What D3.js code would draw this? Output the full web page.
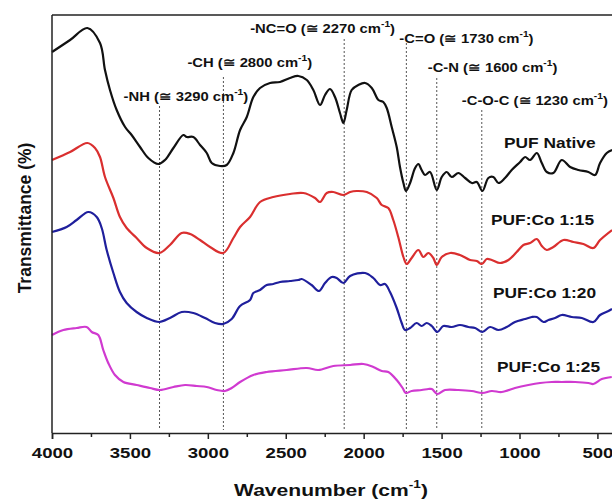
<!DOCTYPE html>
<html><head><meta charset="utf-8">
<script src="https://cdn.jsdelivr.net/npm/d3@7"></script>
<style>
body{margin:0;background:#fff}
svg{display:block;font-family:"Liberation Sans",Arial,Helvetica,sans-serif;font-weight:bold}
</style>
</head><body>
<svg id="chart" width="612" height="500"></svg>
<script>
// ---------- DATA ----------
const seriesNames = ["PUF Native", "PUF:Co 1:15", "PUF:Co 1:20", "PUF:Co 1:25"];
const seriesColors = ["#111111", "#da2f2f", "#1f1f9c", "#d03ad0"];

// [wavenumber (cm-1), transmittance (arb. units)]
const pufNative = [[4000,381],[3884,393],[3773,405],[3692,390],[3660,363],[3628,343],[3585,323],[3531,306],[3489,298],[3435,286],[3382,275],[3318,269],[3275,273],[3221,285],[3157,298],[3135,296],[3093,296],[3050,288],[3007,280],[2975,270],[2922,267],[2879,268],[2836,280],[2793,303],[2750,316],[2708,336],[2665,345],[2601,350],[2537,351],[2473,355],[2419,357],[2365,353],[2323,343],[2280,328],[2248,338],[2216,344],[2184,336],[2152,320],[2130,310],[2109,323],[2077,343],[2034,348],[1991,350],[1948,345],[1905,333],[1874,331],[1852,325],[1820,306],[1788,286],[1767,266],[1745,250],[1728,242],[1702,250],[1670,265],[1649,269],[1628,263],[1606,258],[1574,261],[1531,243],[1499,256],[1467,261],[1435,256],[1392,260],[1349,255],[1306,250],[1274,251],[1238,242],[1200,255],[1168,256],[1135,250],[1093,255],[1050,263],[996,271],[964,276],[932,273],[889,280],[857,270],[825,261],[783,260],[729,273],[675,266],[622,263],[558,261],[515,258],[483,270],[440,280],[406,283]];
const pufCo15 = [[4000,273],[3884,281],[3773,290],[3724,285],[3692,276],[3660,256],[3606,235],[3564,216],[3521,205],[3457,195],[3392,185],[3311,180],[3243,188],[3168,200],[3114,199],[3050,193],[2986,186],[2901,180],[2836,195],[2793,206],[2729,216],[2665,231],[2580,236],[2473,239],[2387,240],[2312,235],[2280,231],[2237,240],[2195,241],[2130,238],[2087,241],[2045,242],[1980,241],[1916,235],[1884,228],[1842,225],[1810,213],[1778,196],[1745,176],[1724,169],[1692,175],[1649,183],[1617,176],[1585,180],[1553,175],[1531,168],[1499,176],[1445,180],[1382,178],[1317,173],[1274,172],[1242,169],[1210,174],[1178,173],[1125,170],[1071,173],[1018,181],[975,188],[932,190],[889,194],[857,187],[825,183],[783,186],[718,193],[654,191],[590,189],[526,185],[483,193],[406,203]];
const pufCo20 = [[4000,201],[3906,206],[3842,213],[3767,221],[3713,216],[3681,205],[3649,183],[3606,160],[3564,141],[3521,130],[3457,121],[3392,115],[3311,111],[3243,115],[3168,121],[3093,120],[3018,115],[2954,110],[2901,109],[2847,114],[2793,127],[2729,133],[2708,140],[2665,143],[2622,148],[2580,149],[2537,151],[2473,152],[2419,153],[2398,154],[2334,148],[2287,142],[2248,150],[2205,156],[2173,155],[2130,150],[2087,157],[1991,160],[1938,155],[1895,148],[1863,149],[1831,141],[1788,125],[1756,110],[1735,103],[1702,105],[1660,110],[1628,107],[1595,110],[1563,107],[1527,101],[1489,107],[1435,106],[1382,108],[1328,106],[1285,105],[1238,101],[1189,106],[1135,103],[1082,106],[1029,111],[964,114],[921,116],[889,116],[846,111],[814,113],[772,115],[729,118],[665,116],[600,115],[526,111],[483,118],[429,122],[406,124]];
const pufCo25 = [[4000,98],[3927,103],[3842,105],[3778,106],[3745,101],[3703,98],[3671,83],[3639,70],[3596,58],[3542,51],[3457,48],[3371,45],[3307,43],[3221,46],[3146,48],[3071,47],[3007,46],[2943,43],[2890,42],[2847,45],[2793,51],[2708,58],[2622,61],[2494,63],[2365,65],[2291,63],[2195,67],[2087,68],[2002,69],[1938,66],[1884,62],[1842,61],[1788,53],[1750,45],[1730,40],[1692,42],[1628,43],[1585,44],[1563,44],[1527,39],[1478,43],[1392,43],[1306,42],[1238,40],[1178,42],[1114,41],[1029,45],[943,48],[868,50],[793,51],[729,51],[643,51],[558,50],[526,49],[472,54],[408,56]];
const seriesData = [pufNative, pufCo15, pufCo20, pufCo25];

// band markers (dotted lines) and their labels
const bandWavenumbers = [3310, 2900, 2125, 1726, 1531, 1242];
const bandGroups = ["-NH", "-CH", "-NC=O", "-C=O", "-C-N", "-C-O-C"];
const bandLabelValues = ["3290", "2800", "2270", "1730", "1600", "1230"];

const xTickValues = [4000, 3500, 3000, 2500, 2000, 1500, 1000, 500];
const xMinorTickValues = [3750, 3250, 2750, 2250, 1750, 1250, 750];
const xDomain = [4000, 400];
const yDomain = [0, 418];

// ---------- LAYOUT ----------
const L = 52, R = 613, T = 15, B = 433;
// label offsets relative to the marker line, label baseline, line top (px)
const bandLayout = [
  {dx: -36, by: 101, top: 106},
  {dx: -36, by: 67,  top: 77},
  {dx: -94, by: 33,  top: 39},
  {dx: -7,  by: 43,  top: 43},
  {dx: -9,  by: 72,  top: 78},
  {dx: -20, by: 105, top: 110}
];
const seriesLabelLayout = [
  {x: 504, y: 148}, {x: 491, y: 225}, {x: 493, y: 298}, {x: 497, y: 372}
];
const SX = 1.24;      // horizontal stretch of the original text
const SX_BAND = 1.14; // stretch for band labels

const svg = d3.select("#chart");
const x = d3.scaleLinear().domain(xDomain).range([L, R]);
const y = d3.scaleLinear().domain(yDomain).range([B, T]);

// band dotted lines
bandWavenumbers.forEach((w, i) => {
  svg.append("line")
    .attr("x1", x(w)).attr("x2", x(w))
    .attr("y1", bandLayout[i].top).attr("y2", B - 3)
    .attr("stroke", "#555").attr("stroke-width", 1)
    .attr("stroke-dasharray", "2,2");
});

// curves
const line = d3.line().x(d => x(d[0])).y(d => y(d[1])).curve(d3.curveCatmullRom.alpha(0.5));
seriesData.forEach((s, i) => {
  svg.append("path").datum(s)
    .attr("d", line)
    .attr("fill", "none")
    .attr("stroke", seriesColors[i])
    .attr("stroke-width", 2.2)
    .attr("stroke-linejoin", "round");
});

// frame: left axis + top border
svg.append("line").attr("x1", L).attr("x2", L).attr("y1", T).attr("y2", B)
  .attr("stroke", "#222").attr("stroke-width", 1.5);
svg.append("line").attr("x1", L).attr("x2", 612).attr("y1", T).attr("y2", T)
  .attr("stroke", "#222").attr("stroke-width", 1.5);

// bottom axis
const xAxis = d3.axisBottom(x).tickValues(xTickValues).tickSize(6).tickPadding(8)
  .tickFormat(d3.format("d"));
const gx = svg.append("g").attr("transform", `translate(0,${B})`).call(xAxis);
gx.select(".domain").attr("stroke", "#222").attr("stroke-width", 1.5);
gx.selectAll(".tick line").attr("stroke", "#222").attr("stroke-width", 1.5);
gx.selectAll(".tick text").attr("fill", "#111").attr("font-size", 15)
  .attr("font-weight", "bold").attr("font-family", '"Liberation Sans",Arial,sans-serif')
  .attr("transform", `scale(${SX},1)`);
const xMinor = d3.axisBottom(x).tickValues(xMinorTickValues).tickSize(4).tickFormat("");
const gm = svg.append("g").attr("transform", `translate(0,${B})`).call(xMinor);
gm.select(".domain").remove();
gm.selectAll(".tick line").attr("stroke", "#222").attr("stroke-width", 1.5);

// band labels
bandWavenumbers.forEach((w, i) => {
  const g = svg.append("g")
    .attr("transform", `translate(${x(w) + bandLayout[i].dx},${bandLayout[i].by}) scale(${SX_BAND},1)`);
  const t = g.append("text").attr("font-size", 13).attr("fill", "#111");
  t.append("tspan").text(`${bandGroups[i]} (\u2245 ${bandLabelValues[i]} cm`);
  t.append("tspan").attr("font-size", 9).attr("dy", -6).text("-1");
  t.append("tspan").attr("dy", 6).text(")");
});

// series labels
seriesNames.forEach((n, i) => {
  svg.append("g")
    .attr("transform", `translate(${seriesLabelLayout[i].x},${seriesLabelLayout[i].y}) scale(${SX},1)`)
    .append("text").attr("font-size", 14).attr("fill", "#111").text(n);
});

// axis titles
const xt = svg.append("g").attr("transform", `translate(331,496) scale(${SX},1)`)
  .append("text").attr("text-anchor", "middle").attr("font-size", 17).attr("fill", "#111");
xt.append("tspan").text("Wavenumber (cm");
xt.append("tspan").attr("font-size", 11).attr("dy", -8).text("-1");
xt.append("tspan").attr("dy", 8).text(")");

svg.append("text")
  .attr("transform", "translate(31,218) rotate(-90)")
  .attr("text-anchor", "middle").attr("font-size", 17.5).attr("fill", "#111")
  .text("Transmittance (%)");
</script>
</body></html>
